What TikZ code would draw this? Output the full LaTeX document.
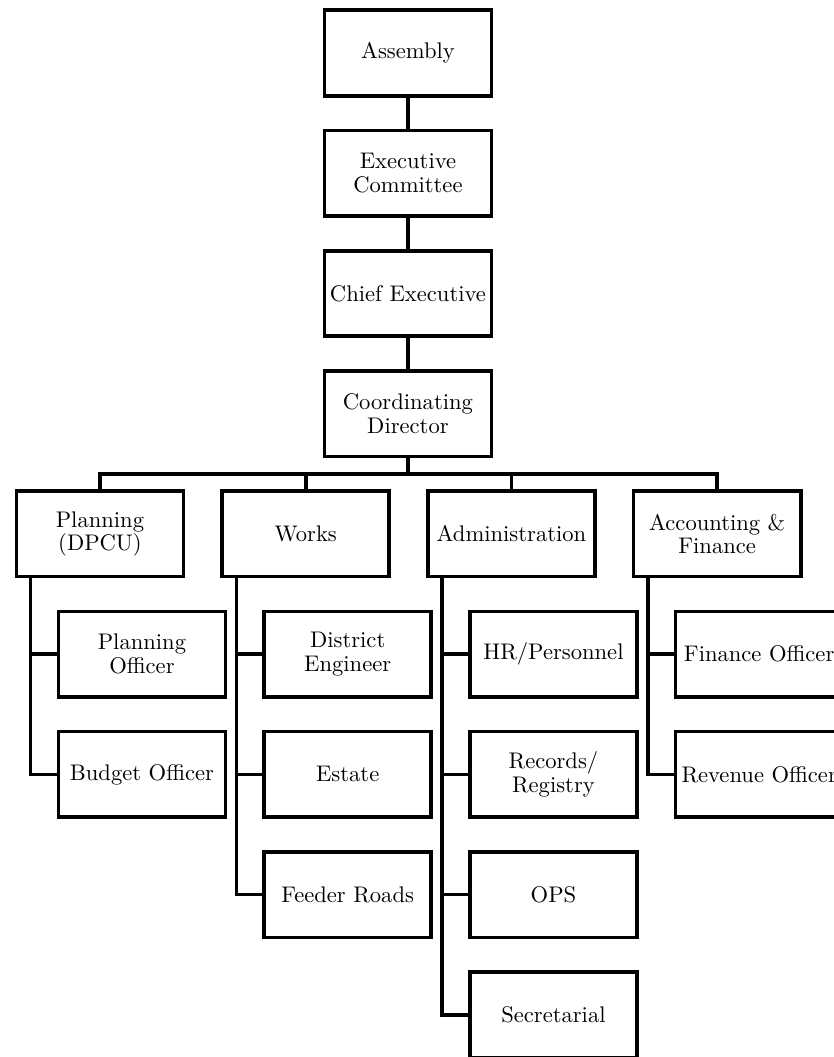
\documentclass[tikz,border=0pt]{standalone}
\usetikzlibrary{calc}
\tikzset{
  unit/.style={draw,line width=1.6pt,minimum width=2.6cm,minimum height=1.33cm,
               align=center,inner sep=1pt,font=\fontsize{10}{10.5}\selectfont},
  link/.style={line width=1.6pt},
}

\begin{document}
\begin{tikzpicture}
  \def\W{12.97}   % picture width
  \def\H{16.44}   % picture height
  \def\cx{6.345}  % centre of top column
  \def\xa{1.555}  % first department
  \def\dx{3.2}    % department spacing
  \def\yo{-0.824} % first row
  \def\dy{1.87}   % row spacing
  \def\sx{0.653}  % shift of sub units
  \def\tx{0.25}   % trunk offset from left edge
  \useasboundingbox (0,0) rectangle (\W,-\H);
  \clip (0,0) rectangle (\W,-\H);

  % TOP
  \node[unit] (asm)   at (\cx,\yo)        {Assembly};
  \node[unit] (exco)  at (\cx,\yo-\dy)    {Executive\\Committee};
  \node[unit] (chief) at (\cx,\yo-2*\dy)  {Chief Executive};
  \node[unit] (coord) at (\cx,\yo-3*\dy)  {Coordinating\\Director};

  % DEPARTMENTS
  \node[unit] (plan)  at (\xa,\yo-4*\dy)       {Planning\\(DPCU)};
  \node[unit] (works) at (\xa+\dx,\yo-4*\dy)   {Works};
  \node[unit] (admin) at (\xa+2*\dx,\yo-4*\dy) {Administration};
  \node[unit] (acc)   at (\xa+3*\dx,\yo-4*\dy) {Accounting \&\\Finance};
  \coordinate (bus) at (\cx,{\yo-3.5*\dy}); % bus line

  % SUB UNITS
  \node[unit] (pofficer) at (\xa+\sx,\yo-5*\dy) {Planning\\Officer};
  \node[unit] (bofficer) at (\xa+\sx,\yo-6*\dy) {Budget Officer};
  \node[unit] (engineer) at (\xa+\dx+\sx,\yo-5*\dy) {District\\Engineer};
  \node[unit] (estate)   at (\xa+\dx+\sx,\yo-6*\dy) {Estate};
  \node[unit] (roads)    at (\xa+\dx+\sx,\yo-7*\dy) {Feeder Roads};
  \node[unit] (hr)       at (\xa+2*\dx+\sx,\yo-5*\dy) {HR/Personnel};
  \node[unit] (records)  at (\xa+2*\dx+\sx,\yo-6*\dy) {Records/\\Registry};
  \node[unit] (ops)      at (\xa+2*\dx+\sx,\yo-7*\dy) {OPS};
  \node[unit] (secr)     at (\xa+2*\dx+\sx,\yo-8*\dy) {Secretarial};
  \node[unit] (finance)  at (\xa+3*\dx+\sx,\yo-5*\dy) {Finance Officer};
  \node[unit] (revenue)  at (\xa+3*\dx+\sx,\yo-6*\dy) {Revenue Officer};

  % LINKS
  \draw[link] (asm) -- (exco);
  \draw[link] (exco) -- (chief);
  \draw[link] (chief) -- (coord);
  \draw[link] (coord) -- (bus);
  \draw[link] (plan.north) -- (plan |- bus) -- (acc |- bus) -- (acc.north);
  \draw[link] (works.north) -- (works |- bus);
  \draw[link] (admin.north) -- (admin |- bus);

  \draw[link] ([xshift=\tx cm]plan.south west) |- (pofficer.west);
  \draw[link] ([xshift=\tx cm]plan.south west) |- (bofficer.west);
  \draw[link] ([xshift=\tx cm]works.south west) |- (engineer.west);
  \draw[link] ([xshift=\tx cm]works.south west) |- (estate.west);
  \draw[link] ([xshift=\tx cm]works.south west) |- (roads.west);
  \draw[link] ([xshift=\tx cm]admin.south west) |- (hr.west);
  \draw[link] ([xshift=\tx cm]admin.south west) |- (records.west);
  \draw[link] ([xshift=\tx cm]admin.south west) |- (ops.west);
  \draw[link] ([xshift=\tx cm]admin.south west) |- (secr.west);
  \draw[link] ([xshift=\tx cm]acc.south west) |- (finance.west);
  \draw[link] ([xshift=\tx cm]acc.south west) |- (revenue.west);

\end{tikzpicture}
\end{document}
